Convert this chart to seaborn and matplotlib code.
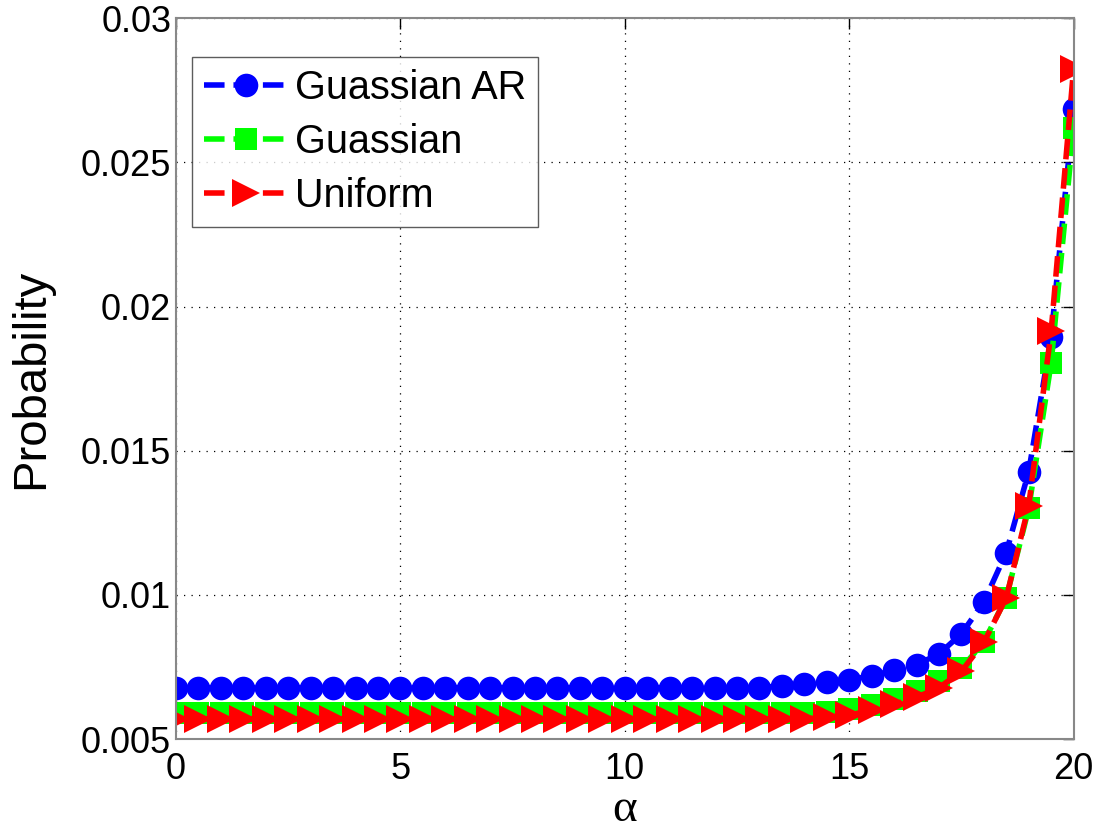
import matplotlib
matplotlib.use("Agg")
import matplotlib.pyplot as plt
import seaborn as sns
import pandas as pd
import numpy as np

sns.set_theme(style="white")
plt.rcParams['font.family'] = ['Liberation Sans', 'DejaVu Sans']
plt.rcParams['text.color'] = 'black'
plt.rcParams['axes.labelcolor'] = 'black'

alpha = [i * 0.5 for i in range(41)]

gauss_ar = [0.00678] * 27 + [0.00685, 0.00690, 0.00697, 0.00705, 0.00720, 0.00738,
                             0.00758, 0.00795, 0.00865, 0.00975, 0.01147, 0.01428,
                             0.01895, 0.02685]
gauss = [0.00590] * 29 + [0.00595, 0.00604, 0.00618, 0.00640, 0.00665, 0.00700,
                          0.00745, 0.00837, 0.00990, 0.01300, 0.01805, 0.02620]
uniform = [0.00570] * 29 + [0.00575, 0.00583, 0.00600, 0.00620, 0.00645, 0.00678,
                            0.00735, 0.00835, 0.00990, 0.01310, 0.01915, 0.02825]

df = pd.DataFrame({'alpha': alpha, 'Guassian AR': gauss_ar,
                   'Guassian': gauss, 'Uniform': uniform})

fig = plt.figure(figsize=(11, 8.33), dpi=100)
ax = fig.add_axes([0.16, 0.1128, 0.816, 0.8652])

styles = [('Guassian AR', '#0000ff', 'o', 17),
          ('Guassian', '#00ff00', 's', 16),
          ('Uniform', '#ff0000', '>', 20)]
for name, col, mk, ms in styles:
    sns.lineplot(data=df, x='alpha', y=name, ax=ax, color=col, marker=mk,
                 markersize=ms, markeredgewidth=0, linewidth=4,
                 linestyle='--', dashes=(2.5, 1.3), label=name)

ax.set_xlim(0, 20)
ax.set_ylim(0.005, 0.03)
ax.set_xticks([0, 5, 10, 15, 20])
ax.set_yticks([0.005, 0.01, 0.015, 0.02, 0.025, 0.03])
ax.set_yticklabels(['0.005', '0.01', '0.015', '0.02', '0.025', '0.03'])
ax.grid(True, color='black', linestyle=(0, (1, 5)), linewidth=0.9)
ax.tick_params(direction='in', length=8, width=1, colors='black',
               labelsize=26, top=True, right=True)
ax.tick_params(axis='x', pad=9)
for s in ax.spines.values():
    s.set_color('#888888')
    s.set_linewidth(1.5)

ax.set_xlabel('α', fontsize=34, family=['Liberation Serif', 'DejaVu Serif'])
ax.xaxis.label.set_va('baseline')
ax.xaxis.set_label_coords(0.5, -0.114)
ax.set_ylabel('Probability', fontsize=34, labelpad=20)

leg = ax.legend(loc='upper left', bbox_to_anchor=(0.018, 0.946), fontsize=28.5,
                frameon=True, fancybox=False, edgecolor='#333333',
                handlelength=2.1, handletextpad=0.2, borderpad=0.3,
                labelspacing=0.4, borderaxespad=0)
leg.get_frame().set_linewidth(1.0)

plt.savefig('out.png', dpi=100)
